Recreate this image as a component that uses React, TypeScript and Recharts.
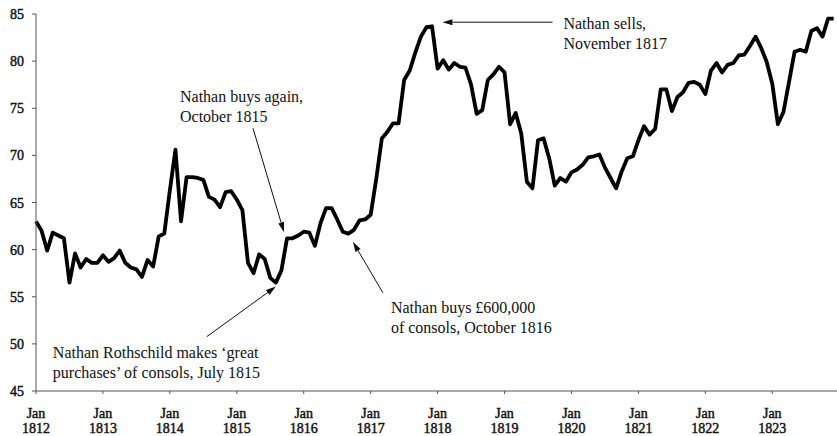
import React from 'react';
import { LineChart, Line, XAxis, YAxis, ReferenceDot } from 'recharts';

// Consol prices, one value per month from Jan 1812 to Dec 1823
const prices = [
  63.0, 62.0, 59.9, 61.8, 61.5, 61.2, 56.5, 59.6, 58.1, 59.0, 58.6, 58.6,
  59.4, 58.7, 59.1, 59.9, 58.6, 58.1, 57.9, 57.1, 58.9, 58.2, 61.4, 61.7,
  66.3, 70.6, 63.0, 67.7, 67.7, 67.6, 67.4, 65.6, 65.3, 64.5, 66.1, 66.2,
  65.3, 64.2, 58.6, 57.5, 59.5, 59.0, 57.0, 56.5, 57.8, 61.2, 61.2, 61.5,
  61.9, 61.8, 60.4, 62.8, 64.4, 64.4, 63.2, 61.9, 61.7, 62.1, 63.1, 63.2,
  63.7, 67.5, 71.8, 72.5, 73.4, 73.4, 78.0, 79.0, 80.9, 82.6, 83.6, 83.7,
  79.2, 80.1, 79.1, 79.8, 79.4, 79.3, 77.5, 74.4, 74.8, 78.0, 78.6, 79.4,
  78.8, 73.3, 74.5, 72.3, 67.2, 66.5, 71.6, 71.8, 69.7, 66.8, 67.6, 67.2,
  68.2, 68.5, 69.0, 69.8, 69.9, 70.1, 68.7, 67.6, 66.5, 68.3, 69.7, 69.9,
  71.6, 73.1, 72.2, 72.8, 77.0, 77.0, 74.7, 76.2, 76.7, 77.7, 77.8, 77.5,
  76.5, 79.0, 79.8, 78.8, 79.6, 79.8, 80.6, 80.7, 81.6, 82.6, 81.4, 79.9,
  77.6, 73.3, 74.6, 77.8, 81.0, 81.2, 81.0, 83.2, 83.5, 82.6, 84.5, 84.5,
];

const years = ['1812', '1813', '1814', '1815', '1816', '1817', '1818', '1819', '1820', '1821', '1822', '1823'];
const monthTicks = years.map((_, i) => i * 12);
const yTicks = [45, 50, 55, 60, 65, 70, 75, 80, 85];

const data = prices.map((price, month) => ({ month, price }));

const FONT = '"Liberation Serif", serif';
const INK = '#111';

// notes are placed relative to the point they refer to (month index)
const notes = [
  { month: 45, lines: ['Nathan buys again,', 'October 1815'], tip: [-3, -6], tail: [-34, -110], text: [-107, -136] },
  { month: 43, lines: ['Nathan Rothschild makes \u2018great', 'purchases\u2019 of consols, July 1815'], tip: [0, 4], tail: [-69, 54], text: [-223, 75] },
  { month: 57, lines: ['Nathan buys \u00a3600,000', 'of consols, October 1816'], tip: [-1, 12], tail: [29, 63], text: [37, 83] },
  { month: 70, lines: ['Nathan sells,', 'November 1817'], tip: [16, -5], tail: [126, -5], text: [137, 2] },
];

const Note = ({ cx, cy, note }: any) => {
  const x1 = cx + note.tip[0];
  const y1 = cy + note.tip[1];
  const x0 = cx + note.tail[0];
  const y0 = cy + note.tail[1];
  const a = Math.atan2(y1 - y0, x1 - x0);
  const len = 10;
  const half = 3;
  const bx = x1 - len * Math.cos(a);
  const by = y1 - len * Math.sin(a);
  const head = `${x1},${y1} ${bx + half * Math.sin(a)},${by - half * Math.cos(a)} ${bx - half * Math.sin(a)},${by + half * Math.cos(a)}`;
  return (
    <g>
      <line x1={x0} y1={y0} x2={bx} y2={by} stroke={INK} strokeWidth={1} />
      <polygon points={head} fill={INK} />
      {note.lines.map((t: string, i: number) => (
        <text key={i} x={cx + note.text[0]} y={cy + note.text[1] + i * 20} fill={INK} style={{ fontFamily: FONT, fontSize: 16 }}>
          {t}
        </text>
      ))}
    </g>
  );
};

// ticks are set in regular serif with a hairline stroke to get the heavier look
const tickStyle = { fontFamily: FONT, fontSize: 14, fill: INK, stroke: INK, strokeWidth: 0.45 };

const YearTick = ({ x, y, payload }: any) => {
  const year = years[Math.round(payload.value / 12)];
  return (
    <g>
      <text x={x} y={y + 24} textAnchor="middle" style={tickStyle}>Jan</text>
      <text x={x} y={y + 39} textAnchor="middle" style={tickStyle}>{year}</text>
    </g>
  );
};

const ValueTick = ({ x, y, payload }: any) => (
  <text x={x} y={y + 5} textAnchor="end" style={tickStyle}>{payload.value}</text>
);

export default function App() {
  return (
    <div style={{ position: 'absolute', left: 0, top: 0, background: '#fff' }}>
      <LineChart width={837} height={436} data={data} margin={{ top: 14, right: 0, bottom: 0, left: 0 }}>
        <XAxis
          type="number"
          dataKey="month"
          domain={[0, 143.6]}
          ticks={monthTicks}
          interval={0}
          height={45}
          tickSize={3}
          tickMargin={0}
          stroke="#555"
          tick={<YearTick />}
        />
        <YAxis
          type="number"
          domain={[45, 85]}
          ticks={yTicks}
          interval={0}
          width={36}
          tickSize={4}
          tickMargin={8}
          stroke="#555"
          tick={<ValueTick />}
        />
        <Line
          type="linear"
          dataKey="price"
          stroke="#000"
          strokeWidth={3.8}
          strokeLinejoin="round"
          dot={false}
          isAnimationActive={false}
        />
        {notes.map((n) => (
          <ReferenceDot
            key={n.month}
            x={n.month}
            y={prices[n.month]}
            r={0}
            shape={(p: any) => <Note cx={p.cx} cy={p.cy} note={n} />}
          />
        ))}
      </LineChart>
    </div>
  );
}
